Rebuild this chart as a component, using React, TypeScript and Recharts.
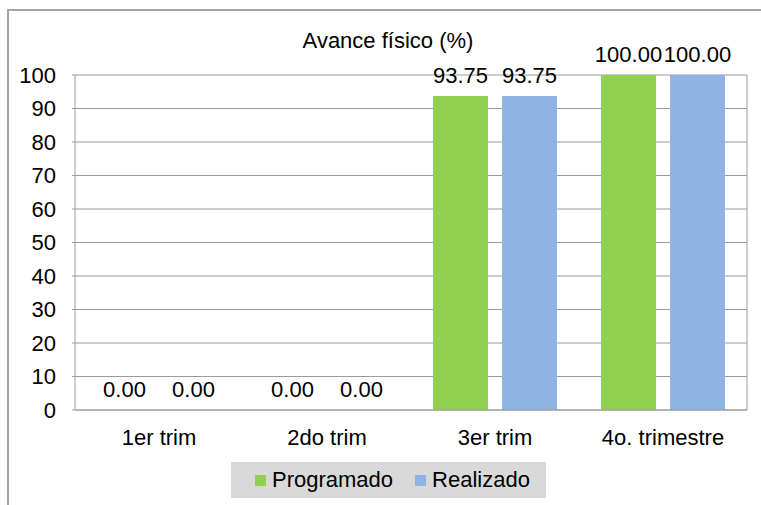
import React from "react";
import { BarChart, Bar, XAxis, YAxis, CartesianGrid, LabelList } from "recharts";

const categories = ["1er trim", "2do trim", "3er trim", "4o. trimestre"];
const programado = [0, 0, 93.75, 100];
const realizado = [0, 0, 93.75, 100];
const yTicks = [0, 10, 20, 30, 40, 50, 60, 70, 80, 90, 100];
const seriesNames = ["Programado", "Realizado"];
const seriesColors = ["#92D050", "#8DB4E2"];
const title = "Avance físico (%)";

const data = categories.map((c, i) => ({ name: c, programado: programado[i], realizado: realizado[i] }));

const FONT = '"Liberation Sans", Arial, sans-serif';
const GRID = "#9a9a9a";

const renderLabel = (props: any) => {
  const { x, y, width, value } = props;
  if (value === undefined || value === null) return null;
  return (
    <text x={Number(x) + Number(width) / 2} y={Number(y) - 13} textAnchor="middle" fontSize={22} fontFamily={FONT} fill="#000">
      {Number(value).toFixed(2)}
    </text>
  );
};

export default function App() {
  return (
    <div style={{ position: "absolute", left: 0, top: 0, width: 761, height: 505, overflow: "hidden", background: "#fff", fontFamily: FONT }}>
      <div style={{ position: "absolute", left: 7, top: 9, width: 800, height: 600, border: "2px solid #a3a3a3", boxSizing: "border-box" }} />
      <svg style={{ position: "absolute", left: 0, top: 0 }} width={761} height={505}>
        <text x={388} y={48} textAnchor="middle" fontSize={22} fontFamily={FONT} fill="#000">{title}</text>
      </svg>
      <div style={{ position: "absolute", left: 0, top: 0 }}>
        <BarChart width={761} height={505} data={data} margin={{ top: 75, right: 0, bottom: 55, left: 0 }} barGap={14}>
          <CartesianGrid vertical={false} stroke={GRID} strokeWidth={1} />
          <XAxis dataKey="name" height={40} tickLine={false} tickSize={0} tickMargin={19} axisLine={{ stroke: GRID }} tick={{ fill: "#000", fontSize: 22, fontFamily: FONT }} interval={0} />
          <YAxis domain={[0, 100]} ticks={yTicks} width={75} tickSize={3} tickMargin={16} tickLine={{ stroke: GRID }} axisLine={{ stroke: GRID }} tick={{ fill: "#000", fontSize: 22, fontFamily: FONT }} interval={0} />
          <YAxis yAxisId="r" orientation="right" domain={[0, 100]} width={14} tick={false} tickLine={false} axisLine={{ stroke: GRID }} />
          <Bar dataKey="programado" name={seriesNames[0]} fill={seriesColors[0]} barSize={55} minPointSize={0.01} isAnimationActive={false}>
            <LabelList dataKey="programado" content={renderLabel} />
          </Bar>
          <Bar dataKey="realizado" name={seriesNames[1]} fill={seriesColors[1]} barSize={55} minPointSize={0.01} isAnimationActive={false}>
            <LabelList dataKey="realizado" content={renderLabel} />
          </Bar>
        </BarChart>
      </div>
      <div style={{ position: "absolute", left: 231, top: 462, width: 315, height: 36, background: "#D9D9D9", display: "flex", alignItems: "center", paddingLeft: 24, boxSizing: "border-box" }}>
        {seriesNames.map((n, i) => (
          <div key={n} style={{ display: "flex", alignItems: "center", marginRight: 22 }}>
            <div style={{ width: 11, height: 11, background: seriesColors[i], marginRight: 6 }} />
            <span style={{ fontSize: 22, color: "#000", lineHeight: "36px" }}>{n}</span>
          </div>
        ))}
      </div>
    </div>
  );
}
